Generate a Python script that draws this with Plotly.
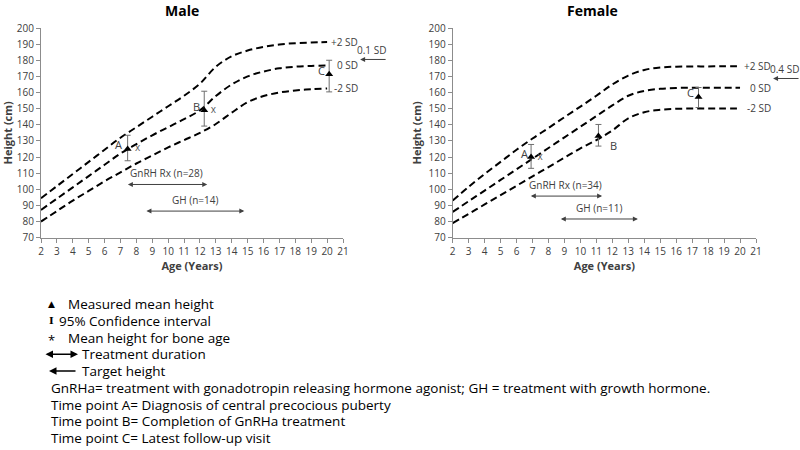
import plotly.graph_objects as go

# ---------------- data ----------------
AGES = list(range(2, 21))

male_plus2 = [94.5, 102, 109.5, 117, 124.5, 132, 138.5, 145, 151.5, 158, 165.5, 176, 182.5, 186, 188.3, 189.8, 190.6, 191, 191.3]
male_zero = [87.2, 94.2, 101.2, 108.2, 115.2, 122.2, 128, 133.5, 138.5, 143.5, 149, 157.8, 165, 170, 173, 175, 176, 176.5, 176.8]
male_minus2 = [80, 86.5, 93, 99, 105, 110.5, 116, 121, 126, 130.5, 135, 140.5, 147.5, 154, 157.8, 160, 161.3, 162, 162.5]

female_plus2 = [93, 101.5, 109.5, 117, 124.5, 131.5, 138, 144.7, 151.3, 158, 165, 170.5, 174, 175.5, 176, 176.2, 176.2, 176.3, 176.3]
female_zero = [86, 92.6, 99.2, 105.8, 112.4, 119, 125.6, 132.2, 138.8, 145.4, 152, 158, 161, 162.3, 162.8, 163, 163, 163, 163]
female_minus2 = [79, 84.8, 90.6, 96.4, 102.2, 108, 113.8, 119.6, 125.4, 130.5, 136.5, 144, 147.8, 149.3, 149.9, 150.1, 150.1, 150.1, 150.1]

SD_LABELS = ["+2 SD", "0 SD", "-2 SD"]
POINT_LABELS = ["A", "B", "C"]

male_pt_age = [7.45, 12.27, 20.13]
male_pt_h = [125, 149, 171.4]
male_ci_hi = [133.5, 160.8, 180]
male_ci_lo = [117.7, 139.2, 160.4]

female_pt_age = [6.91, 11.13, 17.4]
female_pt_h = [120, 133, 157.3]
female_ci_hi = [127.8, 140.2, 163.1]
female_ci_lo = [113, 126.8, 150.7]

male_bone_age = [8.08, 12.84]
male_bone_h = [125.5, 149]
female_bone_age = [7.47]
female_bone_h = [119.5]

male_tx_labels = ["GnRH Rx (n=28)", "GH (n=14)"]
male_tx_start = [7.37, 8.54]
male_tx_end = [12.46, 14.79]
male_tx_h = [103, 86.5]

female_tx_labels = ["GnRH Rx (n=34)", "GH (n=11)"]
female_tx_start = [6.80, 8.68]
female_tx_end = [11.36, 13.6]
female_tx_h = [95.8, 81.6]

male_target_h = 180.5
male_target_label = "0.1 SD"
female_target_h = 168.7
female_target_label = "0.4 SD"

X_TICKS = list(range(2, 22))
Y_TICKS = list(range(70, 201, 10))

LEGEND_LINES = [
    ("▲", "Measured mean height"),
    ("I", "95% Confidence interval"),
    ("*", "Mean height for bone age"),
    ("<->", "Treatment duration"),
    ("<-", "Target height"),
    ("", "GnRHa= treatment with gonadotropin releasing hormone agonist; GH = treatment with growth hormone."),
    ("", "Time point A= Diagnosis of central precocious puberty"),
    ("", "Time point B= Completion of GnRHa treatment"),
    ("", "Time point C= Latest follow-up visit"),
]

# ---------------- figure ----------------
W, H = 800, 450


def PX(x):
    return x / W


def PY(y):
    return 1 - y / H


FONT = "Open Sans"
TXT = "#404040"
AX = "#8c8c8c"

fig = go.Figure()
annotations = []

panels = [
    dict(title="Male", xa="x", ya="y", curves=[male_plus2, male_zero, male_minus2],
         pa=male_pt_age, ph=male_pt_h, hi=male_ci_hi, lo=male_ci_lo,
         ba=male_bone_age, bh=male_bone_h,
         txl=male_tx_labels, txs=male_tx_start, txe=male_tx_end, txh=male_tx_h,
         th=male_target_h, tl=male_target_label,
         lab_shift=[(-9, 4), (-8, 4), (-8, 4)], title_x=182),
    dict(title="Female", xa="x2", ya="y2", curves=[female_plus2, female_zero, female_minus2],
         pa=female_pt_age, ph=female_pt_h, hi=female_ci_hi, lo=female_ci_lo,
         ba=female_bone_age, bh=female_bone_h,
         txl=female_tx_labels, txs=female_tx_start, txe=female_tx_end, txh=female_tx_h,
         th=female_target_h, tl=female_target_label,
         lab_shift=[(-7, 4), (15, -9), (-8, 4)], title_x=592),
]

for p in panels:
    xa, ya = p["xa"], p["ya"]
    for curve, lab in zip(p["curves"], SD_LABELS):
        fig.add_trace(go.Scatter(x=AGES, y=curve, mode="lines", xaxis=xa, yaxis=ya,
                                 line=dict(color="black", width=2, dash="7px,4px", shape="spline", smoothing=1),
                                 showlegend=False, hoverinfo="skip"))
        annotations.append(dict(x=AGES[-1], y=curve[-1], xref=xa, yref=ya, text=lab, showarrow=False,
                                xanchor="right", yanchor="middle", xshift=33,
                                font=dict(family=FONT, size=10, color=TXT)))
    # measured points with CI
    fig.add_trace(go.Scatter(
        x=p["pa"], y=p["ph"], mode="markers", xaxis=xa, yaxis=ya,
        marker=dict(symbol="triangle-up", size=7, color="black"),
        error_y=dict(type="data", symmetric=False,
                     array=[h - m for h, m in zip(p["hi"], p["ph"])],
                     arrayminus=[m - l for m, l in zip(p["ph"], p["lo"])],
                     color="#6e6e6e", thickness=1, width=3),
        showlegend=False, hoverinfo="skip"))
    for a, h, lab, (dx, dy) in zip(p["pa"], p["ph"], POINT_LABELS, p["lab_shift"]):
        annotations.append(dict(x=a, y=h, xref=xa, yref=ya, text=lab, showarrow=False,
                                xanchor="center", yanchor="middle",
                                xshift=dx, yshift=dy, font=dict(family=FONT, size=11, color=TXT)))
    # bone age
    fig.add_trace(go.Scatter(x=p["ba"], y=p["bh"], mode="text", text=["x"] * len(p["ba"]),
                             xaxis=xa, yaxis=ya, textfont=dict(family=FONT, size=10, color="#595959"),
                             showlegend=False, hoverinfo="skip"))
    # treatment durations
    for lab, s, e, h in zip(p["txl"], p["txs"], p["txe"], p["txh"]):
        annotations.append(dict(x=e, y=h, ax=s, ay=h, xref=xa, yref=ya, axref=xa, ayref=ya,
                                text="", showarrow=True, arrowside="end+start", arrowhead=2,
                                arrowsize=1, arrowwidth=1, arrowcolor="#404040"))
        annotations.append(dict(x=(s + e) / 2, y=h, xref=xa, yref=ya, text=lab, showarrow=False,
                                xanchor="center", yanchor="middle",
                                yshift=11, font=dict(family=FONT, size=10, color=TXT)))
    # target height
    annotations.append(dict(x=AGES[-1], y=p["th"], xref=xa, yref=ya, xshift=33, ax=27, ay=0,
                            text="", showarrow=True, arrowhead=2, arrowsize=1, arrowwidth=1,
                            arrowcolor="#404040"))
    annotations.append(dict(x=AGES[-1], y=p["th"], xref=xa, yref=ya, xshift=44, yshift=9,
                            xanchor="center", yanchor="middle",
                            text=p["tl"], showarrow=False, font=dict(family=FONT, size=10, color=TXT)))
    # title
    annotations.append(dict(x=PX(p["title_x"]), y=PY(10), xref="paper", yref="paper",
                            xanchor="center", yanchor="middle",
                            text="<b>%s</b>" % p["title"], showarrow=False,
                            font=dict(family=FONT, size=14, color="black")))

# legend block
y0, dy = 304, 16.75
for i, (sym, txt) in enumerate(LEGEND_LINES):
    yy = PY(y0 + i * dy)
    if sym == "▲":
        annotations.append(dict(x=PX(51), y=yy, xref="paper", yref="paper", text=sym, showarrow=False,
                                xanchor="center", yanchor="middle",
                                font=dict(family="DejaVu Sans", size=9, color="black")))
        tx = 66
    elif sym == "*":
        annotations.append(dict(x=PX(51), y=PY(y0 + i * dy + 2), xref="paper", yref="paper", text=sym,
                                showarrow=False, xanchor="center", yanchor="middle",
                                font=dict(family=FONT, size=13, color="black")))
        tx = 66
    elif sym == "I":
        annotations.append(dict(x=PX(51), y=yy, xref="paper", yref="paper", text="<b>I</b>", showarrow=False,
                                xanchor="center", yanchor="middle",
                                font=dict(family="DejaVu Serif", size=10, color="black")))
        tx = 57
    elif sym == "<->":
        annotations.append(dict(x=PX(78), y=yy, xref="paper", yref="paper", ax=-34, ay=0, text="",
                                xanchor="center", yanchor="middle",
                                showarrow=True, arrowside="end+start", arrowhead=2, arrowsize=1,
                                arrowwidth=1.5, arrowcolor="black"))
        tx = 80
    elif sym == "<-":
        annotations.append(dict(x=PX(49), y=yy, xref="paper", yref="paper", ax=28, ay=0, text="",
                                xanchor="center", yanchor="middle",
                                showarrow=True, arrowhead=2, arrowsize=1, arrowwidth=1.5,
                                arrowcolor="black"))
        tx = 80
    else:
        tx = 49
    annotations.append(dict(x=PX(tx), y=yy, xref="paper", yref="paper", text=txt, showarrow=False,
                            xanchor="left", yanchor="middle",
                            font=dict(family=FONT, size=13.5, color="black")))

axis_common = dict(range=[2, 21], tickvals=X_TICKS, showgrid=False, zeroline=False, showline=True,
                   linecolor=AX, linewidth=1, ticks="outside", ticklen=4, tickcolor=AX, automargin=False,
                   tickfont=dict(family=FONT, size=10, color=TXT),
                   title=dict(text="<b>Age (Years)</b>", font=dict(family=FONT, size=11, color=TXT), standoff=4))
yaxis_common = dict(range=[70, 200], tickvals=Y_TICKS, showgrid=False, zeroline=False, showline=True,
                    linecolor=AX, linewidth=1, ticks="outside", ticklen=4, tickcolor=AX, automargin=False,
                    tickfont=dict(family=FONT, size=10, color=TXT),
                    title=dict(text="<b>Height (cm)</b>", font=dict(family=FONT, size=11, color=TXT), standoff=4))

ydom = [PY(237.7), PY(28)]
fig.update_layout(
    width=W, height=H, margin=dict(l=0, r=0, t=0, b=0),
    paper_bgcolor="white", plot_bgcolor="white", showlegend=False,
    xaxis=dict(domain=[PX(41), PX(343)], anchor="y", **axis_common),
    yaxis=dict(domain=ydom, anchor="x", **yaxis_common),
    xaxis2=dict(domain=[PX(452.7), PX(756)], anchor="y2", **axis_common),
    yaxis2=dict(domain=ydom, anchor="x2", **yaxis_common),
    annotations=annotations,
)

# remove the default 8px page margin so the 800x450 figure fills the window exactly
fig.write_html("out.html", config={"displayModeBar": False},
               post_script="document.body.style.margin='0';document.body.style.overflow='hidden';")
